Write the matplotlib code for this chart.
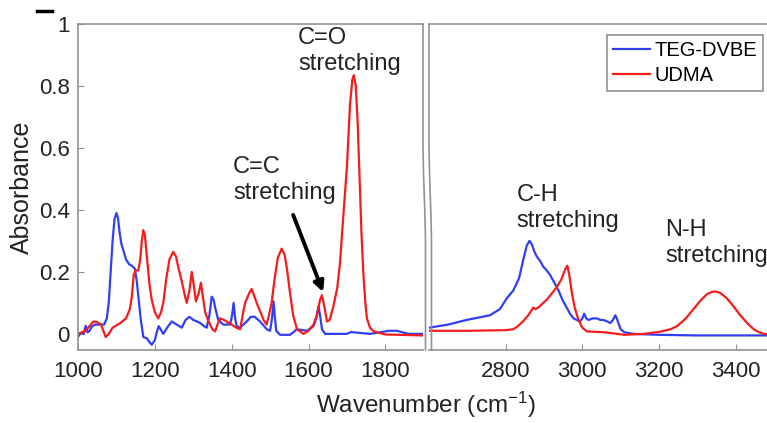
import numpy as np
import matplotlib
matplotlib.use('Agg')
import matplotlib.pyplot as plt
from matplotlib.lines import Line2D

plt.rcParams['font.family'] = ['Liberation Sans', 'DejaVu Sans']
plt.rcParams['mathtext.default'] = 'regular'

# FTIR spectra, fingerprint region (left panel)
teg_wn_lo = [1000, 1005, 1010, 1015, 1020, 1025, 1030, 1037, 1045, 1060, 1068, 1075,
             1080, 1085, 1090, 1095, 1100, 1104, 1108, 1113, 1118, 1125, 1133, 1140,
             1148, 1153, 1158, 1163, 1170, 1180, 1185, 1192, 1200, 1205, 1210, 1215,
             1222, 1232, 1244, 1257, 1270, 1280, 1290, 1300, 1310, 1318, 1328, 1335,
             1342, 1348, 1353, 1358, 1365, 1378, 1396, 1401, 1405, 1409, 1413, 1422,
             1439, 1450, 1460, 1474, 1491, 1500, 1505, 1509, 1512, 1516, 1526, 1552,
             1570, 1596, 1613, 1620, 1626, 1630, 1635, 1643, 1700, 1710, 1760, 1810,
             1830, 1860, 1900]
teg_ab_lo = [-0.01, 0.0, 0.005, 0.0, 0.026, 0.005, 0.01, 0.025, 0.03, 0.03, 0.03, 0.05,
             0.1, 0.2, 0.3, 0.37, 0.39, 0.375, 0.33, 0.29, 0.27, 0.24, 0.225, 0.22,
             0.21, 0.17, 0.11, 0.05, -0.01, -0.015, -0.025, -0.035, -0.02, 0.005, 0.025, 0.015,
             0.0, 0.02, 0.04, 0.03, 0.02, 0.045, 0.055, 0.045, 0.04, 0.035, 0.025, 0.02,
             0.06, 0.12, 0.11, 0.08, 0.045, 0.03, 0.03, 0.06, 0.1, 0.05, 0.025, 0.02,
             0.04, 0.055, 0.055, 0.04, 0.015, 0.01, 0.05, 0.105, 0.06, 0.01, -0.003, -0.003,
             0.015, 0.01, 0.025, 0.05, 0.09, 0.06, 0.015, 0.0, 0.0, 0.006, 0.0, 0.01,
             0.01, 0.0, 0.0]
udma_wn_lo = [1000, 1010, 1020, 1030, 1040, 1050, 1060, 1066, 1072, 1080, 1090, 1110,
              1125, 1135, 1140, 1145, 1150, 1157, 1162, 1166, 1170, 1174, 1180, 1186,
              1192, 1200, 1209, 1216, 1222, 1230, 1238, 1248, 1255, 1262, 1270, 1277,
              1283, 1290, 1296, 1301, 1307, 1314, 1320, 1325, 1331, 1338, 1344, 1350,
              1357, 1363, 1370, 1380, 1387, 1400, 1412, 1422, 1430, 1435, 1445, 1452,
              1458, 1465, 1475, 1483, 1491, 1497, 1504, 1512, 1520, 1530, 1538, 1545,
              1552, 1560, 1570, 1587, 1600, 1613, 1622, 1630, 1635, 1641, 1648, 1655,
              1665, 1675, 1682, 1690, 1700, 1708, 1714, 1718, 1723, 1728, 1733, 1738,
              1743, 1748, 1752, 1760, 1770, 1800, 1900]
udma_ab_lo = [0.0, 0.005, 0.01, 0.025, 0.04, 0.038, 0.03, 0.01, -0.01, 0.0, 0.02, 0.035,
              0.05, 0.08, 0.12, 0.19, 0.205, 0.205, 0.24, 0.3, 0.335, 0.32, 0.24, 0.16,
              0.11, 0.07, 0.05, 0.07, 0.1, 0.18, 0.24, 0.265, 0.25, 0.21, 0.17, 0.13,
              0.1, 0.14, 0.2, 0.16, 0.105, 0.13, 0.165, 0.12, 0.07, 0.045, 0.03, 0.015,
              0.008, 0.03, 0.05, 0.045, 0.04, 0.03, 0.02, 0.015, 0.07, 0.1, 0.13, 0.145,
              0.125, 0.1, 0.07, 0.045, 0.03, 0.06, 0.1, 0.18, 0.245, 0.275, 0.255, 0.2,
              0.13, 0.06, 0.015, 0.0, 0.01, 0.03, 0.06, 0.11, 0.125, 0.09, 0.04, 0.045,
              0.09, 0.15, 0.23, 0.37, 0.54, 0.74, 0.82, 0.835, 0.8, 0.68, 0.5, 0.32,
              0.19, 0.1, 0.05, 0.02, 0.008, -0.002, -0.005]

# C-H / N-H region (right panel)
teg_wn_hi = [2600, 2650, 2698, 2730, 2759, 2785, 2803, 2820, 2835, 2846, 2855, 2862,
             2868, 2875, 2881, 2890, 2898, 2907, 2916, 2927, 2938, 2948, 2959, 2968,
             2977, 2994, 3000, 3005, 3010, 3016, 3027, 3038, 3047, 3055, 3065, 3073,
             3080, 3086, 3090, 3094, 3100, 3110, 3133, 3200, 3300, 3400, 3500]
teg_ab_hi = [0.02, 0.03, 0.045, 0.053, 0.06, 0.08, 0.115, 0.14, 0.18, 0.24, 0.285, 0.30,
             0.29, 0.265, 0.25, 0.235, 0.217, 0.205, 0.19, 0.165, 0.14, 0.11, 0.085, 0.065,
             0.05, 0.04, 0.05, 0.065, 0.05, 0.045, 0.05, 0.05, 0.045, 0.045, 0.04, 0.035,
             0.045, 0.06, 0.05, 0.035, 0.015, 0.005, 0.0, -0.003, -0.005, -0.005, -0.005]
udma_wn_hi = [2600, 2700, 2800, 2820, 2832, 2845, 2859, 2867, 2872, 2878, 2885, 2907,
              2933, 2945, 2951, 2956, 2961, 2966, 2973, 2980, 2990, 3000, 3012, 3060,
              3110, 3160, 3203, 3230, 3247, 3270, 3290, 3310, 3325, 3337, 3347, 3360,
              3377, 3395, 3412, 3430, 3447, 3460, 3473, 3500]
udma_ab_hi = [0.01, 0.01, 0.012, 0.015, 0.025, 0.04, 0.06, 0.075, 0.085, 0.08, 0.085, 0.11,
              0.15, 0.175, 0.195, 0.21, 0.22, 0.19, 0.13, 0.085, 0.045, 0.02, 0.008, 0.005,
              -0.003, 0.0, 0.007, 0.015, 0.025, 0.05, 0.08, 0.11, 0.128, 0.135, 0.137, 0.132,
              0.115, 0.088, 0.06, 0.035, 0.015, 0.006, 0.0, -0.003]

ytick_vals = [0, 0.2, 0.4, 0.6, 0.8, 1]
ytick_text = ['0', '0.2', '0.4', '0.6', '0.8', '1']
xticks_lo = [1000, 1200, 1400, 1600, 1800]
xticks_hi = [2800, 3000, 3200, 3400]

W, H = 767., 423.
blue = '#2f3ff5'
red = '#f51c1c'
gray = '#8f9393'
txt = '#222222'

def fx(px):
  return px / W

def fy(py):
  return 1 - py / H

fig = plt.figure(figsize=(7.67, 4.23), dpi=100)
ax1 = fig.add_axes([fx(78), fy(350), fx(423) - fx(78), fy(24) - fy(350)])
ax2 = fig.add_axes([fx(429), fy(350), fx(774) - fx(429), fy(24) - fy(350)])

ax1.plot(teg_wn_lo, teg_ab_lo, color=blue, lw=1.6, label='TEG-DVBE')
ax1.plot(udma_wn_lo, udma_ab_lo, color=red, lw=1.6, label='UDMA')
ax2.plot(teg_wn_hi, teg_ab_hi, color=blue, lw=1.6, label='TEG-DVBE')
ax2.plot(udma_wn_hi, udma_ab_hi, color=red, lw=1.6, label='UDMA')

for ax in (ax1, ax2):
  ax.set_ylim(-0.052, 1.0)
  for s in ax.spines.values():
    s.set_color(gray)
    s.set_linewidth(1.2)
  ax.tick_params(direction='in', length=4, color=gray, labelsize=16,
                 labelcolor=txt)
  ax.tick_params(axis='x', pad=8)
  ax.tick_params(axis='y', pad=6)

ax1.set_xlim(1000, 1898)
ax1.set_xticks(xticks_lo)
ax1.set_yticks(ytick_vals)
ax1.set_yticklabels(ytick_text)
ax1.spines['right'].set_visible(False)

ax2.set_xlim(2600, 3500)
ax2.set_xticks(xticks_hi)
ax2.set_yticks([])
ax2.spines['left'].set_visible(False)

# broken-axis edges, gentle S bend
yy = np.linspace(24, 350, 60)
tt = np.clip((yy - 140) / 110, 0, 1)
bend = 2.5 * tt * tt * (3 - 2 * tt)
for x0 in (423, 429):
  fig.add_artist(Line2D(fx(x0 + bend), fy(yy), color=gray, lw=1.2))
fig.add_artist(Line2D([fx(37), fx(52)], [fy(11), fy(11)], color='k', lw=2.5))

# annotations
ax1.text(1573, 0.99, 'C=O\nstretching', fontsize=17, va='top', ha='left',
         color=txt, linespacing=1.25)
ax1.text(1404, 0.575, 'C=C\nstretching', fontsize=17, va='top', ha='left',
         color=txt, linespacing=1.25)
ax1.annotate('', xy=(1638, 0.135), xytext=(1560, 0.384),
             arrowprops=dict(arrowstyle='-|>', lw=2.8, color='k',
                             mutation_scale=15, shrinkA=0, shrinkB=0))
ax2.text(2829, 0.484, 'C-H\nstretching', fontsize=17, va='top', ha='left',
         color=txt, linespacing=1.25)
ax2.text(3216, 0.371, 'N-H\nstretching', fontsize=17, va='top', ha='left',
         color=txt, linespacing=1.25, clip_on=False)

fig.text(fx(22), fy(187), 'Absorbance', rotation=90, fontsize=18,
         ha='center', va='center', color=txt)
fig.text(fx(426), fy(405), 'Wavenumber (cm$^{-1}$)', fontsize=17.5,
         ha='center', va='center', color=txt)

leg = ax2.legend(loc='upper right', bbox_to_anchor=(fx(763), fy(35)),
                 bbox_transform=fig.transFigure, borderaxespad=0,
                 fontsize=14.5, handlelength=1.85, handletextpad=0.2,
                 labelspacing=0.3, borderpad=0.3, fancybox=False, framealpha=1)
leg.get_frame().set_edgecolor(gray)
leg.get_frame().set_linewidth(1.2)

fig.savefig('out.png', dpi=100)
